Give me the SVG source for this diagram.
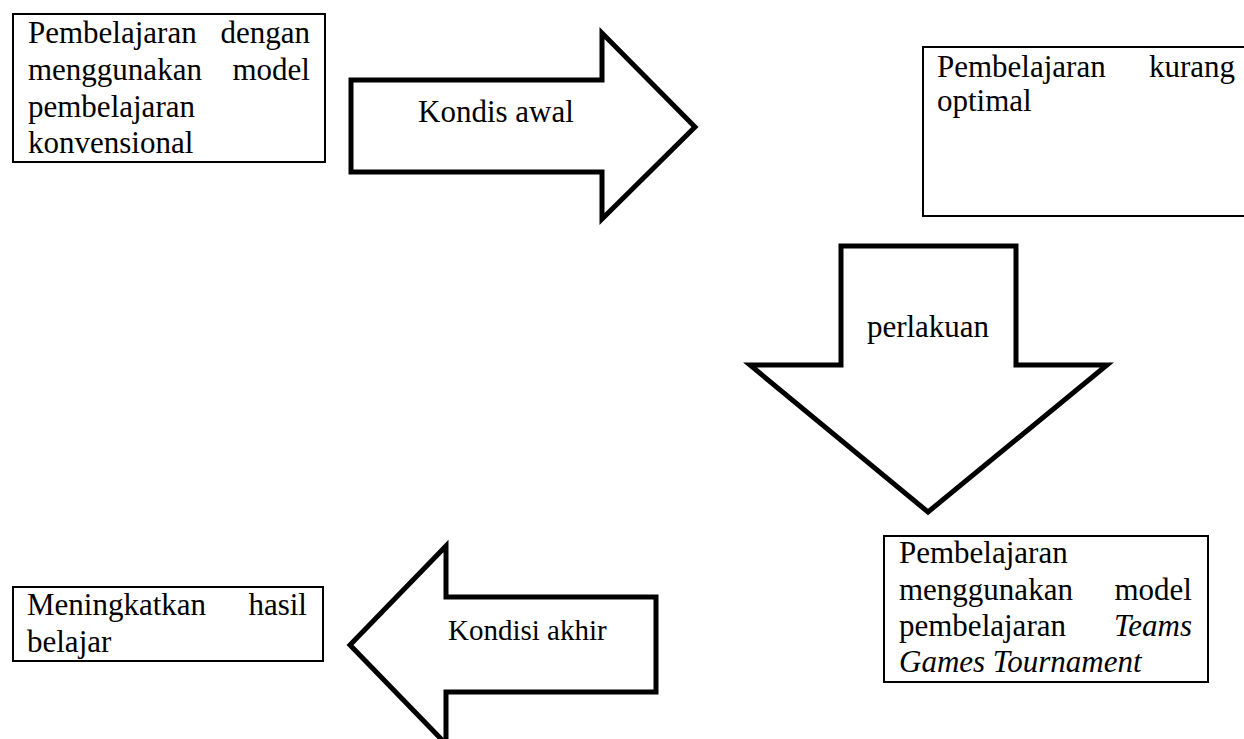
<svg xmlns="http://www.w3.org/2000/svg" width="1244" height="739" viewBox="0 0 1244 739" font-family="'Liberation Serif', 'DejaVu Serif', serif">
<style>
.box{fill:#fff;stroke:#000;stroke-width:2}
.arr{fill:#fff;stroke:#000;stroke-width:5;stroke-linejoin:miter}
text{font-family:'Liberation Serif','DejaVu Serif',serif;font-size:31px;fill:#000}
.it{font-style:italic}
.e{text-anchor:end}
</style>
<rect width="1244" height="739" fill="#fff"/>
<g id="connectors">
<polygon id="arrow-kondis-awal" class="arr" points="351,80 602,80 602,33 695,127 602,219 602,172 351,172"/>
<polygon id="arrow-perlakuan" class="arr" points="841,246 1016,246 1016,365 1107,365 928,512 750,365 841,365"/>
<polygon id="arrow-kondisi-akhir" class="arr" points="656,597 446,597 446,546 350,645 446,744 446,692 656,692"/>
<text x="418" y="122">Kondis awal</text>
<text x="928" y="337" text-anchor="middle">perlakuan</text>
<text x="448" y="640" style="font-size:29px">Kondisi akhir</text>
</g>
<g id="node-konvensional">
<rect class="box" x="13" y="14" width="312" height="148"/>
<text x="28" y="43">Pembelajaran</text><text class="e" x="310" y="43">dengan</text>
<text x="28" y="80">menggunakan</text><text class="e" x="310" y="80">model</text>
<text x="28" y="117">pembelajaran</text>
<text x="28" y="153">konvensional</text>
</g>
<g id="node-kurang-optimal">
<rect class="box" x="923" y="47" width="330" height="169"/>
<text x="937" y="77">Pembelajaran</text><text class="e" x="1235" y="77">kurang</text>
<text x="937" y="111">optimal</text>
</g>
<g id="node-tgt">
<rect class="box" x="884" y="536" width="324" height="146"/>
<text x="899" y="563">Pembelajaran</text>
<text x="899" y="600">menggunakan</text><text class="e" x="1192" y="600">model</text>
<text x="899" y="636">pembelajaran</text><text class="e it" x="1192" y="636">Teams</text>
<text class="it" x="899" y="672">Games Tournament</text>
</g>
<g id="node-hasil">
<rect class="box" x="13" y="587" width="310" height="74"/>
<text x="27" y="615">Meningkatkan</text><text class="e" x="307" y="615">hasil</text>
<text x="27" y="652">belajar</text>
</g>
</svg>
